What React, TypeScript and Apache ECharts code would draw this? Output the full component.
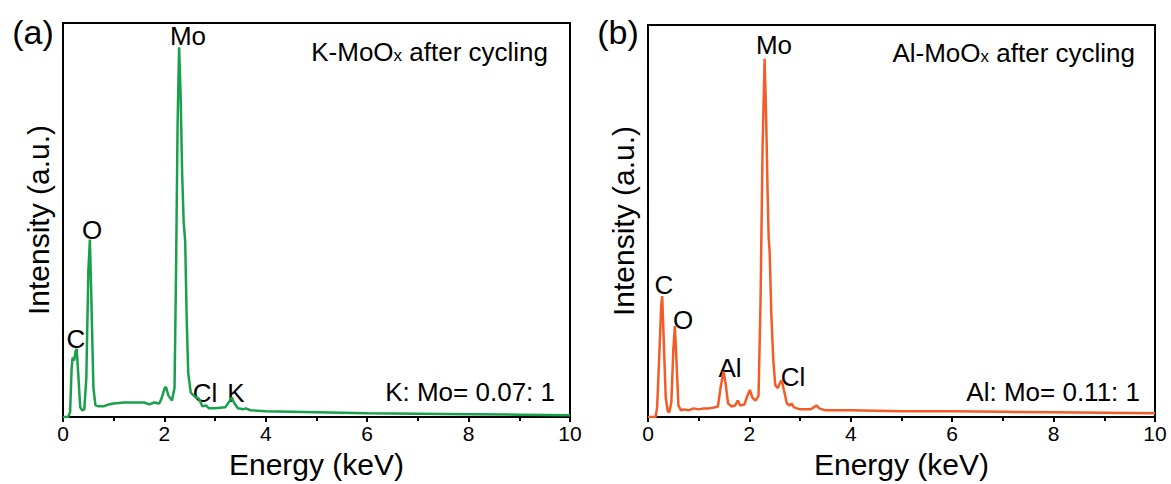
import React, { useEffect, useRef } from 'react';
import * as echarts from 'echarts';

// Panel (a): K-MoOx after cycling — energy (keV) and intensity (a.u.)
const energyK = [0, 0.1, 0.14, 0.17, 0.19, 0.22, 0.25, 0.27, 0.3, 0.34, 0.38, 0.42, 0.46, 0.5, 0.53, 0.56, 0.6, 0.64, 0.7, 0.8, 0.9, 1.0, 1.2, 1.4, 1.6, 1.7, 1.8, 1.9, 1.95, 2.0, 2.03, 2.08, 2.15, 2.2, 2.23, 2.26, 2.29, 2.32, 2.35, 2.38, 2.41, 2.44, 2.47, 2.52, 2.6, 2.68, 2.75, 2.82, 2.88, 3.0, 3.2, 3.28, 3.33, 3.38, 3.45, 3.55, 3.6, 3.7, 4, 5, 6, 7, 8, 9, 10];
const intensityK = [0, 0, 5, 50, 61, 58, 68, 70, 45, 10, 7, 8, 40, 150, 182, 120, 30, 12, 11, 11, 13, 14, 15, 15, 15, 13, 15, 14, 20, 29, 31, 22, 17, 30, 150, 300, 379, 330, 250, 200, 180, 100, 45, 25, 21, 19, 11, 12, 9, 9, 10, 16, 20, 14, 9, 8, 9, 7, 6, 5, 4, 3.5, 3, 2.5, 2];

// Panel (b): Al-MoOx after cycling
const energyAl = [0, 0.15, 0.18, 0.22, 0.26, 0.28, 0.31, 0.35, 0.39, 0.42, 0.46, 0.5, 0.53, 0.56, 0.6, 0.65, 0.7, 0.8, 0.9, 1.0, 1.1, 1.2, 1.3, 1.38, 1.43, 1.49, 1.53, 1.58, 1.65, 1.72, 1.77, 1.82, 1.9, 1.96, 2.01, 2.06, 2.12, 2.18, 2.22, 2.26, 2.3, 2.33, 2.36, 2.38, 2.4, 2.43, 2.47, 2.51, 2.56, 2.61, 2.64, 2.68, 2.74, 2.79, 2.83, 2.88, 3.0, 3.2, 3.27, 3.32, 3.38, 3.5, 4, 5, 6, 7, 8, 9, 10];
const intensityAl = [0, 0, 10, 60, 115, 125, 80, 20, 6, 5, 15, 70, 94, 60, 12, 7, 8, 7, 9, 8, 9, 9, 10, 11, 30, 47, 35, 14, 11, 12, 17, 12, 13, 22, 28, 20, 17, 22, 120, 280, 370, 310, 230, 185, 170, 110, 60, 33, 30, 36, 38, 28, 14, 12, 14, 10, 8, 8, 10, 12, 9, 7, 7, 6, 6, 5.5, 5, 4.5, 4];

const xMin = 0;
const xMax = 10;
const xInterval = 2;

const FONT = 'Arial, "Liberation Sans", Helvetica, sans-serif';
const GREEN = '#18a04b';
const ORANGE = '#f35b27';

function pairs(xs: number[], ys: number[]) {
  return xs.map((x, i) => [x, ys[i]]);
}

function xAxisFor(gridIndex: number) {
  return {
    type: 'value',
    gridIndex,
    min: xMin,
    max: xMax,
    interval: xInterval,
    axisLine: { show: true, onZero: false, lineStyle: { color: '#000', width: 2 } },
    axisTick: { show: true, length: 5, lineStyle: { color: '#000', width: 2 } },
    minorTick: { show: true, splitNumber: 2, length: 4, lineStyle: { color: '#000', width: 2 } },
    splitLine: { show: false },
    minorSplitLine: { show: false },
    axisLabel: { fontSize: 21, color: '#000', margin: 6, fontFamily: FONT },
    name: 'Energy (keV)',
    nameLocation: 'middle',
    nameGap: 26,
    nameTextStyle: { fontSize: 30, color: '#000', fontFamily: FONT },
  };
}

function yAxisFor(gridIndex: number, max: number) {
  return {
    type: 'value',
    gridIndex,
    min: 0,
    max,
    axisLine: { show: true, lineStyle: { color: '#000', width: 2 } },
    axisTick: { show: false },
    axisLabel: { show: false },
    splitLine: { show: false },
    name: 'Intensity (a.u.)',
    nameLocation: 'middle',
    nameGap: 10,
    nameTextStyle: { fontSize: 30, color: '#000', fontFamily: FONT },
  };
}

function label(text: string, x: number, y: number, size = 26, align = 'center') {
  return {
    type: 'text',
    x,
    y,
    style: { text, fontSize: size, fontFamily: FONT, fill: '#000', align, verticalAlign: 'middle' },
  };
}

function richLabel(pre: string, sub: string, post: string, x: number, y: number, align = 'right') {
  return {
    type: 'text',
    x,
    y,
    style: {
      text: `{a|${pre}}{s|${sub}}{a|${post}}`,
      align,
      verticalAlign: 'middle',
      fill: '#000',
      rich: {
        a: { fontSize: 26, fontFamily: FONT, fill: '#000', color: '#000' },
        s: { fontSize: 17, fontFamily: FONT, fill: '#000', color: '#000', padding: [7, 0, 0, 0] },
      },
    },
  };
}

export default function App() {
  const ref = useRef<HTMLDivElement>(null);
  useEffect(() => {
    document.body.style.margin = '0';
    if (!ref.current) return;
    const chart = echarts.init(ref.current, null, { renderer: 'svg' });
    const option: any = {
      animation: false,
      backgroundColor: '#fff',
      grid: [
        { left: 63, top: 23, width: 507, height: 404, show: true, borderColor: '#000', borderWidth: 2, backgroundColor: 'transparent' },
        { left: 648, top: 25, width: 507, height: 405, show: true, borderColor: '#000', borderWidth: 2, backgroundColor: 'transparent' },
      ],
      xAxis: [xAxisFor(0), xAxisFor(1)],
      yAxis: [yAxisFor(0, 404), yAxisFor(1, 405)],
      series: [
        {
          type: 'line',
          xAxisIndex: 0,
          yAxisIndex: 0,
          data: pairs(energyK, intensityK),
          showSymbol: false,
          symbol: 'none',
          lineStyle: { color: GREEN, width: 2.5 },
          itemStyle: { color: GREEN },
          z: 1,
        },
        {
          type: 'line',
          xAxisIndex: 1,
          yAxisIndex: 1,
          data: pairs(energyAl, intensityAl),
          showSymbol: false,
          symbol: 'none',
          lineStyle: { color: ORANGE, width: 2.5 },
          itemStyle: { color: ORANGE },
          z: 1,
        },
      ],
      graphic: [
        label('(a)', 33, 32, 34),
        label('(b)', 618, 32, 34),
        richLabel('K-MoO', 'x', ' after cycling', 548, 52),
        richLabel('Al-MoO', 'x', ' after cycling', 1135, 53),
        label('K: Mo= 0.07: 1', 555, 392, 26, 'right'),
        label('Al: Mo= 0.11: 1', 1140, 392, 26, 'right'),
        label('Mo', 188, 36),
        label('O', 92, 230),
        label('C', 76, 339),
        label('Cl', 205, 393),
        label('K', 236, 393),
        label('Mo', 774, 45),
        label('C', 664, 285),
        label('O', 683, 320),
        label('Al', 730, 368),
        label('Cl', 793, 377),
      ],
    };
    chart.setOption(option);
    return () => chart.dispose();
  }, []);
  return <div ref={ref} style={{ width: 1171, height: 484 }} />;
}
